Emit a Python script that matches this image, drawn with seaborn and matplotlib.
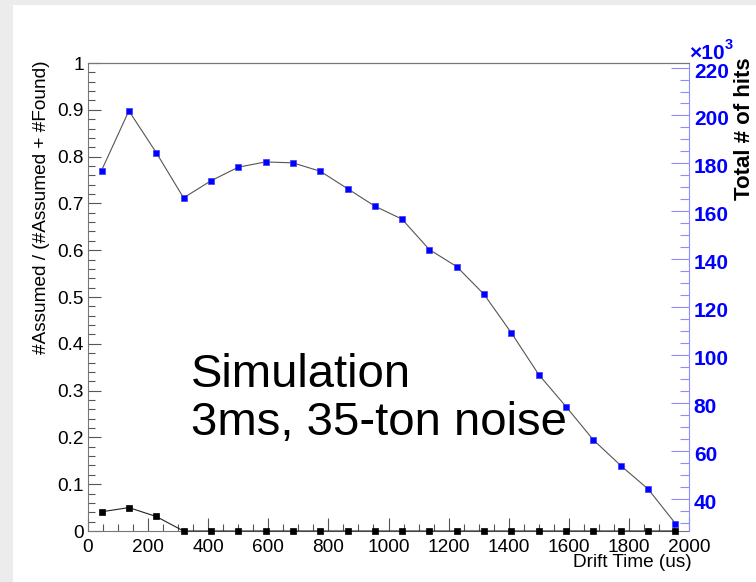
import matplotlib
matplotlib.use("Agg")
import matplotlib.pyplot as plt
from matplotlib.patches import Rectangle
from matplotlib.ticker import MultipleLocator, FuncFormatter
from matplotlib.transforms import ScaledTranslation
import seaborn as sns
import pandas as pd

# ---------------- data ----------------
drift_time_us = [45, 136, 227, 318, 409, 500, 591, 682, 773, 864, 955,
                 1045, 1136, 1227, 1318, 1409, 1500, 1591, 1682, 1773, 1864, 1955]
assumed_fraction = [0.041, 0.050, 0.031, 0.0, 0.0, 0.0, 0.0, 0.0, 0.0, 0.0, 0.0,
                    0.0, 0.0, 0.0, 0.0, 0.0, 0.0, 0.0, 0.0, 0.0, 0.0, 0.0]
total_hits_k = [177.0, 201.9, 184.5, 165.6, 172.7, 178.4, 180.6, 180.2, 176.7, 169.4, 162.1,
                156.7, 144.0, 136.9, 125.3, 109.2, 91.8, 78.4, 64.5, 53.8, 44.0, 29.6]
x_ticks = [0, 200, 400, 600, 800, 1000, 1200, 1400, 1600, 1800, 2000]
left_ticks = [0.0, 0.1, 0.2, 0.3, 0.4, 0.5, 0.6, 0.7, 0.8, 0.9, 1.0]
right_ticks = [40, 60, 80, 100, 120, 140, 160, 180, 200, 220]

df = pd.DataFrame({"t": drift_time_us, "frac": assumed_fraction, "hits": total_hits_k})

# ---------------- style ----------------
sns.set_style("ticks")
plt.rcParams["font.family"] = ["Liberation Sans", "DejaVu Sans"]
plt.rcParams["text.color"] = "black"
plt.rcParams["axes.labelcolor"] = "black"
plt.rcParams["xtick.labelcolor"] = "black"
plt.rcParams["ytick.labelcolor"] = "black"

W, H = 756, 582
fig = plt.figure(figsize=(W / 100, H / 100), dpi=100, facecolor="#ececec")
fig.patches.append(Rectangle((13 / W, 0), 1 - 13 / W, 1 - 5 / H, transform=fig.transFigure,
                             facecolor="white", edgecolor="none", zorder=-10))

L, R, T, B = 88, 689, 63, 531
ax = fig.add_axes([L / W, 1 - B / H, (R - L) / W, (B - T) / H])
ax.set_facecolor("none")
ax2 = ax.twinx()
ax2.set_facecolor("none")

# left series (black)
sns.lineplot(data=df, x="t", y="frac", ax=ax, color="#222222", lw=0.8, marker="s",
             markersize=5.0, markerfacecolor="black", markeredgecolor="black",
             markeredgewidth=0.5, clip_on=False, zorder=5)

# right series (blue)
sns.lineplot(data=df, x="t", y="hits", ax=ax2, color="#555555", lw=0.8, marker="s",
             markersize=5.0, markerfacecolor="blue", markeredgecolor="#3a3aff",
             markeredgewidth=0.5, clip_on=False, zorder=5)

ax.set_xlim(0, 2000)
ax.set_ylim(0, 1)
ax2.set_ylim(26.5, 221.9)

# x axis
ax.set_xticks(x_ticks)
ax.xaxis.set_minor_locator(MultipleLocator(50))
ax.tick_params(axis="x", which="major", direction="in", length=9.4, width=0.8,
               color="#555555", labelsize=13.7, pad=5.5, top=False, labelcolor="black")
ax.tick_params(axis="x", which="minor", direction="in", length=4.7, width=0.8,
               color="#555555", top=False)

# left y axis
ax.set_yticks(left_ticks)
ax.yaxis.set_major_formatter(FuncFormatter(
    lambda v, p: "0" if abs(v) < 1e-9 else ("1" if abs(v - 1) < 1e-9 else f"{v:.1f}")))
ax.yaxis.set_minor_locator(MultipleLocator(0.02))
ax.tick_params(axis="y", which="major", direction="in", length=9.4, width=0.8,
               color="#555555", labelsize=13.7, pad=3, right=False, labelcolor="black")
ax.tick_params(axis="y", which="minor", direction="in", length=4.7, width=0.8,
               color="#555555", right=False)

# right y axis
ax2.set_yticks(right_ticks)
ax2.yaxis.set_minor_locator(MultipleLocator(5))
ax2.tick_params(axis="y", which="major", direction="in", length=13, width=0.8,
                color="#8c8cff", labelsize=15, pad=3.5, labelcolor="blue")
ax2.tick_params(axis="y", which="minor", direction="in", length=6.5, width=0.8,
                color="#8c8cff")

for a in (ax, ax2):
    for s in ("left", "bottom", "top"):
        a.spines[s].set_color("#777777")
        a.spines[s].set_linewidth(0.8)
ax2.spines["right"].set_color("#8c8cff")
ax2.spines["right"].set_linewidth(0.8)
ax.spines["right"].set_visible(False)
ax2.spines["left"].set_visible(False)
ax2.spines["bottom"].set_visible(False)

# labels
ax.set_xlabel("Drift Time (us)", fontsize=13.7, loc="right", color="black")
ax.xaxis.set_label_coords(1.004, -0.05)
ax.set_ylabel("#Assumed / (#Assumed + #Found)", fontsize=13.7, loc="top", color="black")
ax.yaxis.set_label_coords(-0.064, 1.005)
ax2.set_ylabel("Total # of hits", fontsize=16, fontweight="bold", loc="top", color="black")
ax2.yaxis.set_label_coords(1.075, 1.012)

fig.text(689 / W, 1 - 59 / H, "×10", color="blue", fontsize=15, fontweight="bold",
         ha="left", va="baseline")
fig.text(725 / W, 1 - 49 / H, "3", color="blue", fontsize=10.5, fontweight="bold",
         ha="left", va="baseline")

fig.text(191 / W, 1 - 386.7 / H, "Simulation", fontsize=34, ha="left", va="baseline",
         color="black")
fig.text(191 / W, 1 - 435 / H, "3ms, 35-ton noise", fontsize=34, ha="left", va="baseline",
         color="black")

# right tick labels: bold, nudged slightly down like the reference
off = ScaledTranslation(0, -2.5 / 100, fig.dpi_scale_trans)
for t in ax2.yaxis.get_major_ticks():
    t.label2.set_fontweight("bold")
    t.label2.set_transform(t.label2.get_transform() + off)

fig.savefig("out.png", dpi=100, facecolor=fig.get_facecolor())
